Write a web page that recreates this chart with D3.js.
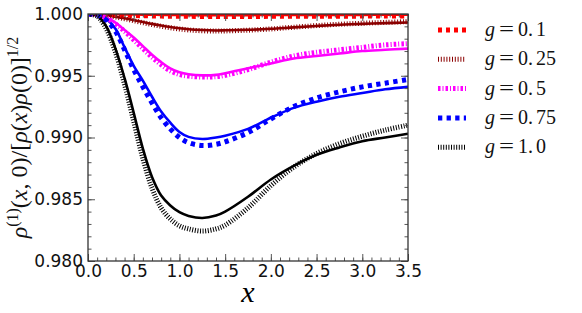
<!DOCTYPE html>
<html>
<head>
<meta charset="utf-8">
<script src="https://cdn.jsdelivr.net/npm/d3@7"></script>
<style>
  body { margin: 0; background: #fff; }
  svg { display: block; }
</style>
</head>
<body>
<div id="chart"></div>
<script>
var xs = [0, 0.1, 0.2, 0.3, 0.4, 0.5, 0.6, 0.7, 0.8, 0.9, 1.0, 1.1, 1.25, 1.4, 1.5, 1.75, 2.0, 2.25, 2.5, 2.75, 3.0, 3.25, 3.5]

// solid curves
var g010Solid = [1.0, 1.0, 0.99999, 0.99998, 0.99997, 0.99996, 0.99995, 0.99994, 0.99993, 0.99992, 0.99992, 0.99991, 0.99991, 0.99991, 0.99991, 0.99991, 0.99992, 0.99992, 0.99993, 0.99993, 0.99993, 0.99994, 0.99994]
var g025Solid = [1.0, 0.99998, 0.9999, 0.99978, 0.99965, 0.9995, 0.99935, 0.9992, 0.99907, 0.99895, 0.99885, 0.99877, 0.9987, 0.99867, 0.99868, 0.99872, 0.9988, 0.99892, 0.99903, 0.99913, 0.9992, 0.99926, 0.99931]
var g050Solid = [1.0, 0.99995, 0.9997, 0.9993, 0.9987, 0.9981, 0.9974, 0.9967, 0.9961, 0.9956, 0.99528, 0.99512, 0.99503, 0.99507, 0.9952, 0.9956, 0.996, 0.9964, 0.9966, 0.9968, 0.997, 0.9971, 0.9972]
var g075Solid = [1.0, 0.99993, 0.9996, 0.9988, 0.9973, 0.9958, 0.9946, 0.9933, 0.9921, 0.9912, 0.99045, 0.99005, 0.98988, 0.99, 0.99015, 0.9907, 0.9916, 0.9924, 0.9929, 0.9933, 0.9936, 0.9939, 0.9941]
var g100Solid = [1.0, 0.99985, 0.999, 0.9972, 0.9948, 0.992, 0.9891, 0.9868, 0.9853, 0.9845, 0.98395, 0.98365, 0.98348, 0.98368, 0.984, 0.9852, 0.9866, 0.9877, 0.9886, 0.9892, 0.9897, 0.99, 0.9903]

// dashed curves
var g010Dash = [1.0, 0.99999, 0.99997, 0.99994, 0.99991, 0.99988, 0.99986, 0.99984, 0.99983, 0.99982, 0.99981, 0.99981, 0.9998, 0.9998, 0.9998, 0.9998, 0.99981, 0.99981, 0.99982, 0.99982, 0.99983, 0.99983, 0.99984]
var g025Dash = [1.0, 0.99998, 0.99989, 0.99976, 0.99962, 0.99946, 0.9993, 0.99915, 0.99901, 0.99889, 0.99879, 0.99871, 0.99864, 0.99862, 0.99863, 0.99869, 0.99879, 0.99893, 0.99906, 0.99917, 0.99925, 0.99932, 0.99938]
var g050Dash = [1.0, 0.99995, 0.9997, 0.9992, 0.9986, 0.9979, 0.9972, 0.9965, 0.9959, 0.9954, 0.9951, 0.99497, 0.9949, 0.99492, 0.99503, 0.9955, 0.9961, 0.9966, 0.9969, 0.9971, 0.9973, 0.9975, 0.9976]
var g075Dash = [1.0, 0.99992, 0.9995, 0.9986, 0.9971, 0.9955, 0.9941, 0.9928, 0.9916, 0.9907, 0.99, 0.98958, 0.98935, 0.98945, 0.98965, 0.9904, 0.9915, 0.9925, 0.9932, 0.9937, 0.9941, 0.9944, 0.9947]
var g100Dash = [1.0, 0.99982, 0.9988, 0.9969, 0.9943, 0.9913, 0.9883, 0.9859, 0.9843, 0.9834, 0.98285, 0.9826, 0.98242, 0.9826, 0.9829, 0.9843, 0.9861, 0.9876, 0.9887, 0.9895, 0.9901, 0.9906, 0.991]

var gLabels = ['0.1', '0.25', '0.5', '0.75', '1.0']
var xTicks = [0, 0.5, 1.0, 1.5, 2.0, 2.5, 3.0, 3.5]
var yTicks = [0.980, 0.985, 0.990, 0.995, 1.000]

var width = 582
var height = 313
var padding = {top: 14, left: 88, right: 174, bottom: 52}

var svg = d3.select('#chart').append('svg')
  .attr('width', width)
  .attr('height', height)

var x = d3.scaleLinear().domain([0, 3.5]).range([padding.left, width - padding.right])
var y = d3.scaleLinear().domain([0.980, 1.000]).range([height - padding.bottom, padding.top])

// styles per g (colour, dash pattern of the thick line)
var styles = [
  {color: '#ff0000', dash: '4,4'},
  {color: '#8b0000', dash: '1,1.8'},
  {color: '#ff00ff', dash: '2.5,2,1,2'},
  {color: '#0000ff', dash: '4.3,4.3'},
  {color: '#000000', dash: '1,1.6'}
]
var solids = [g010Solid, g025Solid, g050Solid, g075Solid, g100Solid]
var dashes = [g010Dash, g025Dash, g050Dash, g075Dash, g100Dash]

svg.append('clipPath').attr('id', 'plotclip')
  .append('rect')
  .attr('x', x(0)).attr('y', y(1.0))
  .attr('width', x(3.5) - x(0)).attr('height', y(0.98) - y(1.0))

var line = d3.line()
  .x(function (d) { return x(d[0]) })
  .y(function (d) { return y(d[1]) })
  .curve(d3.curveCatmullRom.alpha(0.5))

var plot = svg.append('g').attr('clip-path', 'url(#plotclip)')

solids.forEach(function (vals, i) {
  plot.append('path')
    .datum(xs.map(function (v, j) { return [v, vals[j]] }))
    .attr('fill', 'none')
    .attr('stroke', styles[i].color)
    .attr('stroke-width', 2.6)
    .attr('d', line)
})
dashes.forEach(function (vals, i) {
  plot.append('path')
    .datum(xs.map(function (v, j) { return [v, vals[j]] }))
    .attr('fill', 'none')
    .attr('stroke', styles[i].color)
    .attr('stroke-width', 5)
    .attr('stroke-dasharray', styles[i].dash)
    .attr('d', line)
})

// axes: inward ticks on all four sides
var tickColor = '#555'
function styleAxis (g) {
  g.select('.domain').remove()
  g.selectAll('line').attr('stroke', tickColor)
  g.selectAll('text').attr('fill', '#111')
    .attr('font-family', 'DejaVu Sans').attr('font-size', '17px')
}
var xMinor = d3.range(0, 3.501, 0.1)
var yMinor = d3.range(0.980, 1.0001, 0.001)

svg.append('g')
  .attr('transform', 'translate(0,' + y(0.98) + ')')
  .call(d3.axisBottom(x).tickValues(xMinor).tickSize(-3.5).tickFormat(''))
  .call(styleAxis)
svg.append('g')
  .attr('transform', 'translate(0,' + y(0.98) + ')')
  .call(d3.axisBottom(x).tickValues(xTicks).tickSize(-7).tickPadding(4).tickFormat(d3.format('.1f')))
  .call(styleAxis)
svg.append('g')
  .attr('transform', 'translate(0,' + y(1.0) + ')')
  .call(d3.axisTop(x).tickValues(xMinor).tickSize(-3.5).tickFormat(''))
  .call(styleAxis)
svg.append('g')
  .attr('transform', 'translate(0,' + y(1.0) + ')')
  .call(d3.axisTop(x).tickValues(xTicks).tickSize(-7).tickFormat(''))
  .call(styleAxis)
svg.append('g')
  .attr('transform', 'translate(' + x(0) + ',0)')
  .call(d3.axisLeft(y).tickValues(yMinor).tickSize(-3.5).tickFormat(''))
  .call(styleAxis)
svg.append('g')
  .attr('transform', 'translate(' + x(0) + ',0)')
  .call(d3.axisLeft(y).tickValues(yTicks).tickSize(-7).tickPadding(5).tickFormat(d3.format('.3f')))
  .call(styleAxis)
svg.append('g')
  .attr('transform', 'translate(' + x(3.5) + ',0)')
  .call(d3.axisRight(y).tickValues(yMinor).tickSize(-3.5).tickFormat(''))
  .call(styleAxis)
svg.append('g')
  .attr('transform', 'translate(' + x(3.5) + ',0)')
  .call(d3.axisRight(y).tickValues(yTicks).tickSize(-7).tickFormat(''))
  .call(styleAxis)

svg.append('rect')
  .attr('x', x(0)).attr('y', y(1.0))
  .attr('width', x(3.5) - x(0)).attr('height', y(0.98) - y(1.0))
  .attr('fill', 'none')
  .attr('stroke', '#333')
  .attr('stroke-width', 1.3)

// axis labels
svg.append('text')
  .attr('x', (x(0) + x(3.5)) / 2)
  .attr('y', 302)
  .attr('text-anchor', 'middle')
  .attr('font-family', 'Liberation Serif')
  .attr('font-style', 'italic')
  .attr('font-size', '30px')
  .text('x')

// y label pieces: [text, italic, superscript]
var yLabelParts = [
  ['ρ', true, false], ['(1)', false, true], ['(', false, false], ['x', true, false],
  [', 0)/[', false, false], ['ρ', true, false], ['(', false, false], ['x', true, false],
  [')', false, false], ['ρ', true, false], ['(0)]', false, false], ['1/2', false, true]
]
var ylab = svg.append('text')
  .attr('transform', 'translate(27,' + ((y(0.98) + y(1.0)) / 2) + ') rotate(-90)')
  .attr('text-anchor', 'middle')
  .attr('font-family', 'Liberation Serif')
  .attr('font-size', '24px')
  .attr('fill', '#111')
var prevSup = false
yLabelParts.forEach(function (p) {
  var t = ylab.append('tspan').text(p[0])
  if (p[1]) t.attr('font-style', 'italic')
  if (p[2]) t.attr('font-size', '16px').attr('dy', '-9')
  else if (prevSup) t.attr('dy', '9')
  prevSup = p[2]
})

// legend
var legend = svg.append('g')
gLabels.forEach(function (lab, i) {
  var ly = 30 + i * 29.3
  legend.append('line')
    .attr('x1', 438).attr('x2', 466)
    .attr('y1', ly).attr('y2', ly)
    .attr('stroke', styles[i].color)
    .attr('stroke-width', 5)
    .attr('stroke-dasharray', styles[i].dash)
  var parts = lab.split('.')
  var t = legend.append('g')
    .attr('font-family', 'Liberation Serif')
    .attr('font-size', '20px')
    .attr('fill', '#111')
  t.append('text').attr('x', 485).attr('y', ly + 6)
    .attr('font-style', 'italic').text('g')
  t.append('text').attr('x', 499).attr('y', ly + 6)
    .attr('textLength', 15).attr('lengthAdjust', 'spacingAndGlyphs').text('=')
  t.append('text').attr('x', 518).attr('y', ly + 6).text(parts[0] + '.')
  t.append('text').attr('x', 536).attr('y', ly + 6).text(parts[1])
})
</script>
</body>
</html>
